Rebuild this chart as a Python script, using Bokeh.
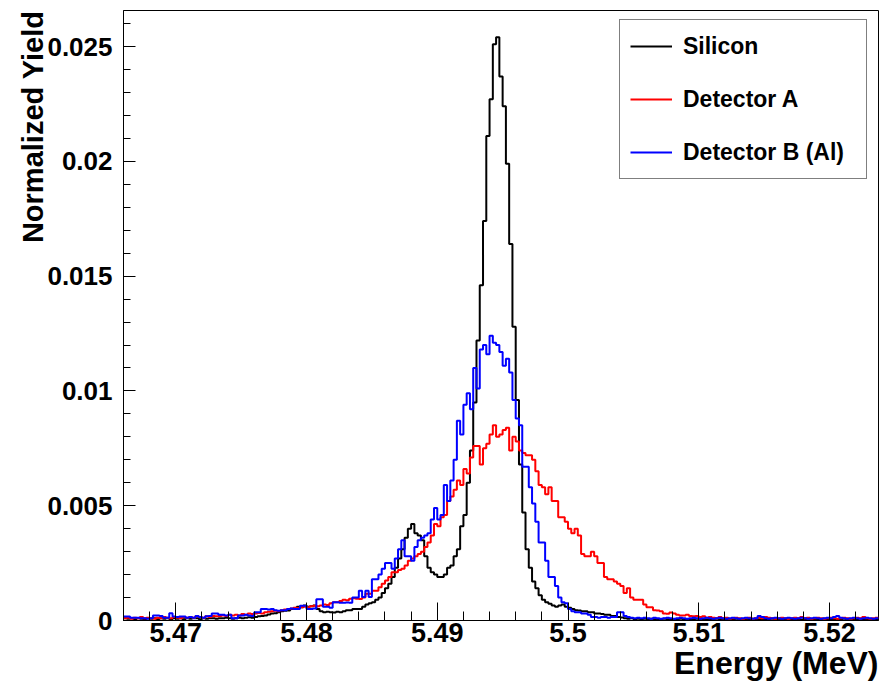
import math
from bokeh.plotting import figure
from bokeh.models import (Range1d, FixedTicker, CustomJSTickFormatter, Legend,
                          LegendItem, Title)
from bokeh.embed import file_html
from bokeh.resources import INLINE

# ---------------- data (bin contents) ----------------
bin_start = 5.466      # MeV, left edge of first bin
bin_width = 0.00025    # MeV

silicon = [
    0.0001, 0.00008, 0.0001, 0.00005, 0.0001, 0.00008, 0.00005, 0.0001, 0.00008, 0.0001,
    0.00005, 0.0001, 0.00008, 0.0001, 0.00005, 0.0001, 0.00008, 0.0001, 0.00005, 0.0001,
    0.00008, 0.0001, 0.0001, 0.00005, 0.0001, 0.00008, 0.0001, 0.0001, 0.00008, 0.0001,
    0.0001, 0.00012, 0.0001, 0.00008, 0.0001, 0.00012, 0.0001, 0.00012, 0.00014, 0.00012,
    0.00015, 0.00018, 0.0002, 0.00022, 0.00026, 0.0003, 0.00032, 0.00036, 0.0004, 0.00042,
    0.00044, 0.0005, 0.00052, 0.0006, 0.00058, 0.00065, 0.0006, 0.00062, 0.00065, 0.0005,
    0.0004, 0.00036, 0.00038, 0.00036, 0.00035, 0.00038, 0.00036, 0.0004, 0.00045, 0.00045,
    0.0005, 0.0005, 0.0005, 0.0006, 0.0007, 0.00075, 0.0008, 0.0009, 0.001, 0.0012,
    0.0014, 0.0016, 0.0019, 0.0023, 0.0027, 0.0031, 0.0036, 0.004, 0.0042, 0.0038,
    0.0037, 0.0035, 0.0028, 0.0023, 0.0021, 0.002, 0.0019, 0.0019, 0.002, 0.0023,
    0.0024, 0.0028, 0.0031, 0.0041, 0.0046, 0.006, 0.0074, 0.0095, 0.0122, 0.0146,
    0.0174, 0.0211, 0.0227, 0.0251, 0.0254, 0.0237, 0.0224, 0.0199, 0.0164, 0.0128,
    0.0096, 0.0068, 0.0047, 0.0031, 0.0023, 0.0017, 0.0014, 0.0011, 0.0009, 0.0008,
    0.00073, 0.00065, 0.0006, 0.00065, 0.0007, 0.0006, 0.00055, 0.0005, 0.00045, 0.00044,
    0.0004, 0.0004, 0.00036, 0.00036, 0.0003, 0.0003, 0.00028, 0.00025, 0.00025, 0.0002,
    0.0002, 0.00015, 0.00013, 0.0001, 0.00008, 0.0001, 0.00005, 0.00008, 0.00005, 0.00008,
    0.00005, 0.00008, 0.00005, 0.00003, 0.00005, 0.00008, 0.00005, 0.00005, 0.00003, 0.00005,
    0.00008, 0.00005, 0.00003, 0.00005, 0.00005, 0.00008, 0.00003, 0.00005, 0.00005, 0.00003,
    0.00005, 0.00008, 0.00005, 0.00003, 0.00005, 0.00005, 0.00003, 0.00008, 0.00005, 0.00003,
    0.00005, 0.00005, 0.00008, 0.00003, 0.00005, 0.00005, 0.00003, 0.00005, 0.00008, 0.00005,
    0.00003, 0.00005, 0.00005, 0.00008, 0.00003, 0.00005, 0.00005, 0.00003, 0.00005, 0.00008,
    0.00005, 0.00003, 0.00005, 0.00005, 0.00008, 0.00003, 0.00005, 0.00005, 0.00003, 0.00005,
    0.00008, 0.00005, 0.00003, 0.00005, 0.00005, 0.00008, 0.00003, 0.00005, 0.00005, 0.00003,
    0.00005,
]

detector_a = [
    0.0001, 0.00012, 0.00008, 0.00012, 0.0001, 0.00015, 0.0001, 0.00012, 0.0001, 0.00008,
    0.00012, 0.0001, 0.00015, 0.00012, 0.0001, 0.00015, 0.00012, 0.0001, 0.00015, 0.00012,
    0.00015, 0.00012, 0.00018, 0.00015, 0.00012, 0.00018, 0.00015, 0.0002, 0.00018, 0.0002,
    0.00022, 0.0002, 0.00025, 0.00022, 0.00025, 0.00022, 0.00028, 0.00025, 0.0003, 0.00028,
    0.0003, 0.00033, 0.0003, 0.00036, 0.00038, 0.0004, 0.00042, 0.0004, 0.00045, 0.00048,
    0.0005, 0.00052, 0.00055, 0.00054, 0.00058, 0.0006, 0.00058, 0.00062, 0.00064, 0.00062,
    0.00065, 0.0007, 0.00068, 0.00075, 0.0008, 0.0008, 0.00085, 0.0009, 0.00088, 0.00095,
    0.00097, 0.00095, 0.00094, 0.001, 0.00116, 0.00116, 0.0013, 0.0013, 0.00145, 0.0016,
    0.00174, 0.0019, 0.0021, 0.0021, 0.0022, 0.00225, 0.0024, 0.0026, 0.0027, 0.0028,
    0.0029, 0.003, 0.0032, 0.0034, 0.0037, 0.0042, 0.0041, 0.0045, 0.0046, 0.0052,
    0.0054, 0.0057, 0.0061, 0.0059, 0.0066, 0.0064, 0.0071, 0.0076, 0.0076, 0.0068,
    0.0075, 0.0077, 0.0081, 0.0085, 0.008, 0.0081, 0.0083, 0.0084, 0.0074, 0.008,
    0.0078, 0.0074, 0.0073, 0.0072, 0.0072, 0.007, 0.0065, 0.0059, 0.0058, 0.0055,
    0.0058, 0.0052, 0.0052, 0.0045, 0.0045, 0.0043, 0.004, 0.0038, 0.004, 0.0037,
    0.0029, 0.0028, 0.0028, 0.003, 0.0028, 0.0025, 0.0025, 0.0019, 0.0018, 0.0018,
    0.0017, 0.0016, 0.0015, 0.0012, 0.0014, 0.001, 0.0009, 0.0009, 0.0009, 0.0007,
    0.00058, 0.00058, 0.00045, 0.00044, 0.0004, 0.0003, 0.00029, 0.00035, 0.0003, 0.00025,
    0.00022, 0.00022, 0.00025, 0.0002, 0.00018, 0.0002, 0.00015, 0.00018, 0.00012, 0.00015,
    0.00012, 0.0001, 0.00015, 0.0001, 0.00012, 0.00008, 0.0001, 0.00012, 0.0001, 0.00008,
    0.0001, 0.00012, 0.00008, 0.0001, 0.00012, 0.0001, 0.00015, 0.00012, 0.0001, 0.00008,
    0.0001, 0.00012, 0.0001, 0.00008, 0.0001, 0.00012, 0.0001, 0.00015, 0.0001, 0.00012,
    0.00008, 0.0001, 0.00012, 0.0001, 0.00008, 0.0001, 0.00012, 0.0001, 0.00008, 0.0001,
    0.00012, 0.0001, 0.00008, 0.0001, 0.00012, 0.0001, 0.00015, 0.0001, 0.00008, 0.0001,
    0.00012,
]

detector_b = [
    0.00017, 0.00017, 0.00012, 0.00012, 0.00012, 0.0001, 0.0001, 0.00008, 0.0001, 0.00022,
    0.00022, 0.0002, 0.00012, 0.00012, 0.00032, 0.00017, 0.00015, 0.00017, 0.00017, 0.00012,
    0.00015, 0.00012, 0.0002, 0.00015, 0.00012, 0.00018, 0.0002, 0.0003, 0.0003, 0.00025,
    0.00025, 0.00022, 0.00025, 0.0001, 0.0001, 0.00022, 0.00022, 0.00025, 0.00022, 0.0002,
    0.00036, 0.00036, 0.0005, 0.0005, 0.00048, 0.0005, 0.00045, 0.00042, 0.00045, 0.00045,
    0.0005, 0.00052, 0.0005, 0.0005, 0.00064, 0.00064, 0.0005, 0.0005, 0.00052, 0.00093,
    0.00093, 0.0006, 0.0006, 0.00055, 0.0008, 0.0008, 0.00077, 0.00077, 0.00078, 0.00077,
    0.001, 0.001, 0.0013, 0.00102, 0.0013, 0.00102, 0.0018, 0.0018, 0.002, 0.00225,
    0.0025, 0.0025, 0.00225, 0.0027, 0.0031, 0.0035, 0.0028, 0.0028, 0.0026, 0.0032,
    0.0035, 0.0036, 0.0037, 0.0038, 0.0044, 0.0049, 0.0044, 0.0046, 0.0059, 0.0052,
    0.0061, 0.007, 0.0087, 0.0081, 0.0094, 0.0099, 0.0092, 0.011, 0.0101, 0.0118,
    0.012, 0.0116, 0.0124, 0.0121, 0.012, 0.0117, 0.0111, 0.0114, 0.0108, 0.0096,
    0.0088, 0.0085, 0.0067, 0.0067, 0.0058, 0.0051, 0.0043, 0.0034, 0.0034, 0.0026,
    0.0019, 0.0019, 0.0015, 0.001, 0.0008, 0.00075, 0.0005, 0.0004, 0.00036, 0.00036,
    0.0003, 0.0003, 0.00025, 0.00015, 0.00015, 0.00012, 0.00015, 0.00015, 0.00012, 0.00015,
    0.00015, 0.00036, 0.00036, 0.0002, 0.00015, 0.00012, 0.0001, 0.00012, 0.0001, 0.00012,
    0.0001, 0.00008, 0.00012, 0.0001, 0.00008, 0.0001, 0.00012, 0.0001, 0.00008, 0.0001,
    0.00012, 0.0001, 0.00008, 0.0001, 0.00012, 0.0001, 0.00008, 0.0001, 0.00012, 0.0001,
    0.00008, 0.0001, 0.00012, 0.0001, 0.00008, 0.0001, 0.00012, 0.0001, 0.00008, 0.0001,
    0.00012, 0.0001, 0.00008, 0.0001, 0.0002, 0.00015, 0.0001, 0.00008, 0.0001, 0.00012,
    0.0001, 0.00008, 0.0001, 0.00012, 0.0001, 0.00008, 0.0001, 0.00012, 0.0001, 0.00008,
    0.0001, 0.00012, 0.0001, 0.00008, 0.0001, 0.00012, 0.0001, 0.00015, 0.0002, 0.00012,
    0.0001, 0.00008, 0.0001, 0.00012, 0.0001, 0.00008, 0.0001, 0.00012, 0.0001, 0.00008,
    0.0001,
]

series_names = ["Silicon", "Detector A", "Detector B (Al)"]
series_colors = ["#000000", "#ff0000", "#0000ff"]

x_major = [5.47, 5.48, 5.49, 5.50, 5.51, 5.52]
y_major = [0.0, 0.005, 0.010, 0.015, 0.020, 0.025]

x_title = "Energy (MeV)"
y_title = "Normalized Yield"

# ---------------- figure ----------------
n_bins = len(silicon)
x_lo = bin_start
x_hi = bin_start + n_bins * bin_width
y_hi = 0.02657

FONT = "Liberation Sans"

p = figure(width=889, height=685, output_backend="svg", toolbar_location=None,
           x_range=Range1d(x_lo, x_hi), y_range=Range1d(0, y_hi),
           min_border_left=123, min_border_right=11, min_border_top=10,
           min_border_bottom=65)
p.xgrid.visible = False
p.ygrid.visible = False
p.outline_line_color = "black"
p.outline_line_width = 1
p.background_fill_color = "white"
p.border_fill_color = "white"

x_minor = [round(5.466 + 0.002 * i, 3) for i in range(29)]
y_minor = [round(0.001 * i, 3) for i in range(27)]

fmt = CustomJSTickFormatter(code="return tick.toFixed(4).replace(/0+$/,'').replace(/\\.$/,'');")

p.xaxis.ticker = FixedTicker(ticks=x_major, minor_ticks=x_minor)
p.yaxis.ticker = FixedTicker(ticks=y_major, minor_ticks=y_minor)
for ax in (p.xaxis[0], p.yaxis[0]):
    ax.formatter = fmt
    ax.major_tick_out = 0
    ax.minor_tick_out = 0
    ax.axis_line_color = "black"
    ax.major_tick_line_color = "black"
    ax.minor_tick_line_color = "black"
    ax.major_label_text_font = FONT
    ax.major_label_text_font_style = "bold"
    ax.major_label_text_color = "black"

p.xaxis.major_tick_in = 18
p.xaxis.minor_tick_in = 9
p.yaxis.major_tick_in = 12
p.yaxis.minor_tick_in = 7
p.xaxis.major_label_text_font_size = "27px"
p.yaxis.major_label_text_font_size = "26px"
p.xaxis.major_label_standoff = 2
p.yaxis.major_label_standoff = 11

# ---------------- histograms ----------------
renderers = []
for vals, color in zip([silicon, detector_a, detector_b], series_colors):
    edges = [bin_start + i * bin_width for i in range(len(vals) + 1)]
    ys = list(vals) + [vals[-1]]
    r = p.step(edges, ys, mode="after", line_color=color, line_width=2)
    renderers.append(r)

# ---------------- legend ----------------
legend = Legend(items=[LegendItem(label=nm, renderers=[r])
                       for nm, r in zip(series_names, renderers)],
                location=(496, 441), orientation="vertical",
                border_line_color="black", border_line_width=1,
                background_fill_color="white", background_fill_alpha=1.0,
                label_text_font=FONT, label_text_font_style="bold",
                label_text_font_size="23px", label_text_color="black",
                padding=10, spacing=21, margin=0,
                glyph_width=42, glyph_height=32,
                label_height=32, label_width=173, label_standoff=11)
p.add_layout(legend, "center")

# ---------------- axis titles ----------------
xt = Title(text=x_title, align="right", vertical_align="bottom",
           text_font=FONT, text_font_style="bold", text_font_size="32px",
           text_color="black", standoff=0, offset=0)
yt = Title(text=y_title, align="right", vertical_align="bottom",
           text_font=FONT, text_font_style="bold", text_font_size="29px",
           text_color="black", standoff=0, offset=0)
try:
    xt.standoff = -4
    yt.standoff = -8
except Exception:
    pass
p.add_layout(xt, "below")
p.add_layout(yt, "left")

open("out.html", "w").write(file_html(p, INLINE))
